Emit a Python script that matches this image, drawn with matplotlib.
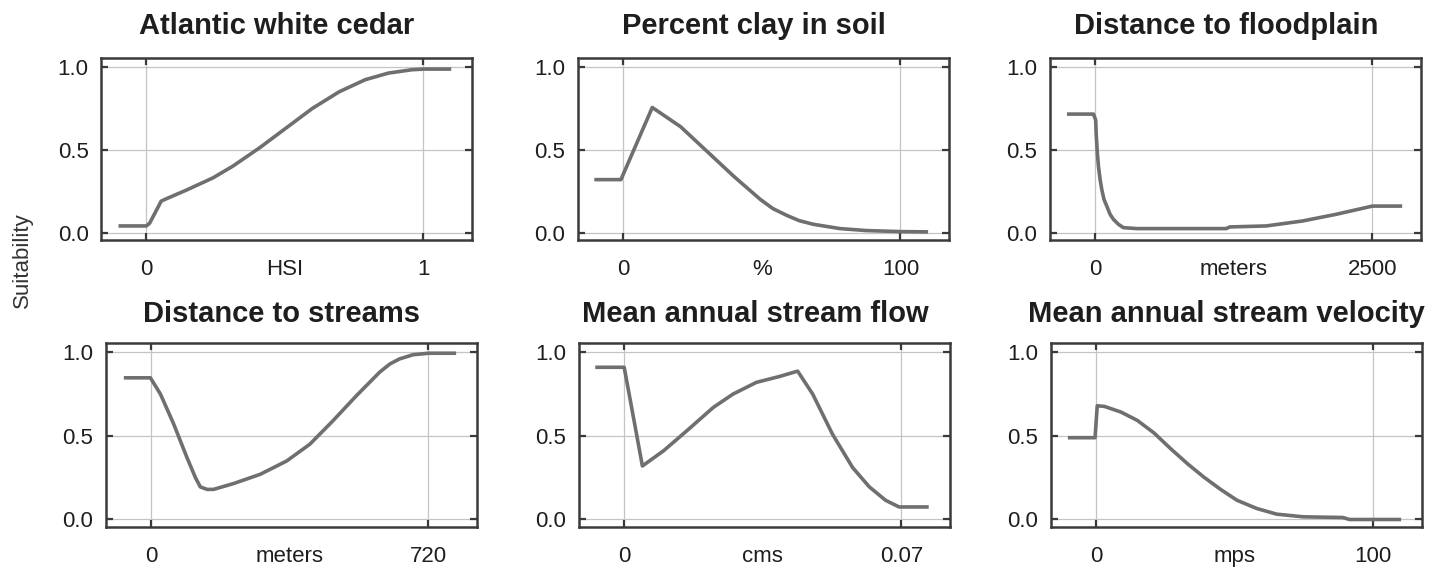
import matplotlib
matplotlib.use("Agg")
import matplotlib.pyplot as plt

plt.rcParams['font.family'] = ['Liberation Sans', 'DejaVu Sans']

# panel titles, units and right tick value
titles = ["Atlantic white cedar", "Percent clay in soil", "Distance to floodplain",
	"Distance to streams", "Mean annual stream flow", "Mean annual stream velocity"]
units = ["HSI", "%", "meters", "meters", "cms", "mps"]
xmax_vals = [1, 100, 2500, 720, 0.07, 100]
xmax_labels = ["1", "100", "2500", "720", "0.07", "100"]

# curves
cedar_x = [-0.10, 0, 0.012, 0.054, 0.072, 0.144, 0.24, 0.311, 0.407, 0.503, 0.599, 0.695, 0.79, 0.874, 0.958, 1.0, 1.10]
cedar_y = [0.04, 0.04, 0.056, 0.19, 0.204, 0.256, 0.33, 0.40, 0.51, 0.63, 0.75, 0.85, 0.924, 0.964, 0.984, 0.988, 0.988]

clay_x = [-10.4, -0.8, 10.5, 20.7, 30.3, 39.9, 49.5, 54.0, 59.0, 63.5, 68.6, 78.2, 87.8, 99.8, 110]
clay_y = [0.32, 0.32, 0.756, 0.64, 0.49, 0.34, 0.20, 0.145, 0.104, 0.072, 0.05, 0.024, 0.012, 0.006, 0.004]

flood_x = [-254, -15, 5, 9, 20, 30, 45, 60, 80, 105, 135, 165, 210, 254, 374, 1183, 1213, 1542, 1871, 2171, 2500, 2769]
flood_y = [0.716, 0.716, 0.68, 0.60, 0.48, 0.40, 0.32, 0.26, 0.20, 0.16, 0.11, 0.08, 0.05, 0.03, 0.024, 0.024, 0.034, 0.04, 0.07, 0.11, 0.16, 0.16]

streams_x = [-71, -2, 24, 58.6, 93, 115, 127.6, 145, 162, 214, 283, 352, 412, 472, 533, 593, 620, 645, 680, 720, 792]
streams_y = [0.847, 0.847, 0.75, 0.57, 0.37, 0.25, 0.195, 0.18, 0.18, 0.215, 0.27, 0.35, 0.45, 0.59, 0.74, 0.88, 0.93, 0.96, 0.985, 0.994, 0.994]

flow_x = [-0.0073, 0, 0.0011, 0.0046, 0.0099, 0.0158, 0.0225, 0.0275, 0.0334, 0.0392, 0.0438,
	0.0476, 0.0526, 0.0577, 0.0619, 0.066, 0.0694, 0.0769]
flow_y = [0.91, 0.91, 0.77, 0.32, 0.41, 0.53, 0.67, 0.75, 0.82, 0.855, 0.887,
	0.75, 0.51, 0.31, 0.195, 0.115, 0.075, 0.075]

vel_x = [-10.2, -0.4, 0.4, 3.0, 9.0, 14.9, 20.9, 26.9, 32.9, 38.8, 44.8, 50.8, 57.9, 65.1, 74.7, 89, 91.4, 110]
vel_y = [0.489, 0.489, 0.68, 0.676, 0.642, 0.592, 0.517, 0.423, 0.334, 0.254, 0.181, 0.115, 0.066, 0.032, 0.016, 0.012, 0.0, 0.0]

curves = [(cedar_x, cedar_y), (clay_x, clay_y), (flood_x, flood_y),
	(streams_x, streams_y), (flow_x, flow_y), (vel_x, vel_y)]

# axes boxes in figure fractions
lefts = [0.0697, 0.3986, 0.7241, 0.0731, 0.3993, 0.7248]
bottoms = [0.5767, 0.5767, 0.5767, 0.0705, 0.0705, 0.0705]
width = 0.256
heights = [0.321, 0.321, 0.321, 0.3245, 0.3245, 0.3245]
title_pads = [17, 17, 17, 15, 15, 15]

spine_col = '#3a3a3a'
grid_col = '#c4c4c4'
line_col = '#6f6f6f'
text_col = '#1e1e1e'


def draw_panel(fig, i):
	ax = fig.add_axes([lefts[i], bottoms[i], width, heights[i]])
	xm = xmax_vals[i]
	ax.set_xlim(-0.163 * xm, 1.176 * xm)
	ax.set_ylim(-0.045, 1.055)

	for yv in [0.0, 0.5, 1.0]:
		ax.axhline(yv, color=grid_col, lw=0.9, zorder=1)
	for xv in [0, xm]:
		ax.axvline(xv, color=grid_col, lw=0.9, zorder=1)

	x, y = curves[i]
	ax.plot(x, y, color=line_col, lw=2.6, solid_capstyle='butt', solid_joinstyle='round', zorder=3)

	ax.set_yticks([0.0, 0.5, 1.0])
	ax.set_yticklabels(["0.0", "0.5", "1.0"])
	ax.set_xticks([0, xm])
	ax.set_xticklabels(["0", xmax_labels[i]])
	ax.set_xticks([xm / 2.0], minor=True)
	ax.set_xticklabels([units[i]], minor=True)

	ax.tick_params(axis='both', which='major', direction='in', length=5, width=1.6,
		color=spine_col, labelsize=16, labelcolor=text_col)
	ax.tick_params(axis='y', right=True, pad=9)
	ax.tick_params(axis='x', top=True, pad=14)
	ax.tick_params(axis='x', which='minor', length=0, pad=14, labelsize=16, labelcolor=text_col)

	for s in ax.spines.values():
		s.set_color(spine_col)
		s.set_linewidth(1.8)

	ax.set_title(titles[i], fontsize=21, fontweight='bold', color=text_col,
		pad=title_pads[i], x=0.474)


def main():
	fig = plt.figure(figsize=(14.5, 5.67), dpi=100)
	for i in range(6):
		draw_panel(fig, i)
	fig.text(0.0152, 0.541, "Suitability", rotation=90, fontsize=16,
		color='#333333', ha='center', va='center')
	fig.savefig('out.png', dpi=100)
	plt.close(fig)


main()
